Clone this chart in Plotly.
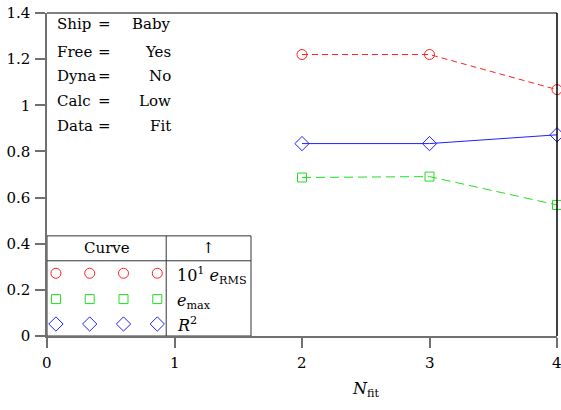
import plotly.graph_objects as go

# ---- data ----
n_fit = [2, 3, 4]
e_rms_x10 = [1.22, 1.22, 1.068]
e_max = [0.687, 0.691, 0.568]
r_squared = [0.834, 0.834, 0.872]

y_ticks = [0, 0.2, 0.4, 0.6, 0.8, 1, 1.2, 1.4]
y_tick_labels = ["0", "0.2", "0.4", "0.6", "0.8", "1", "1.2", "1.4"]
x_ticks = [0, 1, 2, 3, 4]
x_tick_labels = ["0", "1", "2", "3", "4"]

info_keys = ["Ship", "Free", "Dyna", "Calc", "Data"]
info_vals = ["Baby", "Yes", "No", "Low", "Fit"]

legend_labels = ["10<sup>1</sup> <i>e</i><sub>RMS</sub>",
                 "<i>e</i><sub>max</sub>",
                 "<i>R</i><sup>2</sup>"]

FONT = "DejaVu Serif"
RED, GREEN, BLUE = "#ff2020", "#20e020", "#2020ff"

fig = go.Figure()

fig.add_trace(go.Scatter(x=n_fit, y=e_rms_x10, mode="lines+markers",
                         line=dict(color=RED, width=1, dash="6px,4px"),
                         marker=dict(symbol="circle-open", size=10, color=RED, line=dict(width=1)),
                         cliponaxis=False, showlegend=False))
fig.add_trace(go.Scatter(x=n_fit, y=e_max, mode="lines+markers",
                         line=dict(color=GREEN, width=1, dash="9px,5px"),
                         marker=dict(symbol="square-open", size=9, color=GREEN, line=dict(width=1)),
                         cliponaxis=False, showlegend=False))
fig.add_trace(go.Scatter(x=n_fit, y=r_squared, mode="lines+markers",
                         line=dict(color=BLUE, width=1),
                         marker=dict(symbol="diamond-open", size=11, color=BLUE, line=dict(width=1)),
                         cliponaxis=False, showlegend=False))

# ---- legend table ----
leg_x = [0.07, 0.335, 0.6, 0.865]
leg_rows = [0.272, 0.16, 0.052]
leg_specs = [("circle-open", 10, RED), ("square-open", 9, GREEN), ("diamond-open", 11, BLUE)]
for yy, (sym, sz, col) in zip(leg_rows, leg_specs):
    fig.add_trace(go.Scatter(x=leg_x, y=[yy] * 4, mode="markers",
                             marker=dict(symbol=sym, size=sz, color=col, line=dict(width=1)),
                             cliponaxis=False, showlegend=False))

shapes = []
lc = dict(color="#333", width=1)
shapes.append(dict(type="rect", xref="x", yref="y", x0=0, x1=1.6, y0=0, y1=0.434,
                   line=lc, fillcolor="rgba(0,0,0,0)"))
shapes.append(dict(type="line", xref="x", yref="y", x0=0, x1=1.6, y0=0.326, y1=0.326, line=lc))
shapes.append(dict(type="line", xref="x", yref="y", x0=0.935, x1=0.935, y0=0, y1=0.434, line=lc))
# top and right frame
shapes.append(dict(type="line", xref="paper", yref="paper", x0=0, x1=1, y0=1, y1=1,
                   line=dict(color="black", width=1)))
shapes.append(dict(type="line", xref="paper", yref="paper", x0=1, x1=1, y0=0, y1=1,
                   line=dict(color="black", width=1.5)))

ann = []
fs = 15
ann.append(dict(x=0.47, y=0.382, xref="x", yref="y", text="Curve", showarrow=False,
                font=dict(family=FONT, size=fs, color="black")))
ann.append(dict(x=1.265, y=0.382, xref="x", yref="y", text="↑", showarrow=False,
                font=dict(family=FONT, size=fs, color="black")))
for yy, lab in zip([0.262, 0.148, 0.048], legend_labels):
    ann.append(dict(x=1.0, y=yy, xref="x", yref="y", text=lab, showarrow=False,
                    xanchor="left", font=dict(family=FONT, size=fs + 1, color="black")))

info_y = [1.352, 1.232, 1.125, 1.017, 0.91]
for yy, k, v in zip(info_y, info_keys, info_vals):
    ann.append(dict(x=0.06, y=yy, xref="x", yref="y", text=k, showarrow=False,
                    xanchor="left", font=dict(family=FONT, size=fs, color="black")))
    ann.append(dict(x=0.45, y=yy, xref="x", yref="y", text="=", showarrow=False,
                    xanchor="center", font=dict(family=FONT, size=fs, color="black")))
    ann.append(dict(x=0.985, y=yy, xref="x", yref="y", text=v, showarrow=False,
                    xanchor="right", font=dict(family=FONT, size=fs, color="black")))

# x tick labels (drawn as annotations so the last one is not dropped at the edge)
for xv, xl in zip(x_ticks, x_tick_labels):
    ann.append(dict(x=xv, y=-0.085, xref="x", yref="paper", text=xl, showarrow=False,
                    yanchor="middle", font=dict(family=FONT, size=fs, color="black")))

ann.append(dict(x=(365 - 47) / 510, y=-0.165, xref="paper", yref="paper",
                text="<i>N</i><sub>fit</sub>", showarrow=False, yanchor="middle",
                font=dict(family=FONT, size=fs + 1, color="black")))

axis_col = "#707070"
fig.update_layout(
    width=561, height=410,
    margin=dict(l=47, r=4, t=10, b=74),
    plot_bgcolor="white", paper_bgcolor="white",
    font=dict(family=FONT, size=fs, color="black"),
    xaxis=dict(range=[0, 4], tickvals=x_ticks, showticklabels=False,
               showgrid=False, zeroline=False, showline=True, linecolor=axis_col, linewidth=1.5,
               ticks="outside", ticklen=10, tickcolor=axis_col, tickwidth=1.5),
    yaxis=dict(range=[0, 1.4], tickvals=y_ticks, ticktext=y_tick_labels,
               showgrid=False, zeroline=False, showline=True, linecolor=axis_col, linewidth=1.5,
               ticks="outside", ticklen=10, tickcolor=axis_col, tickwidth=1.5,
               ticklabelstandoff=2),
    shapes=shapes, annotations=ann,
)

fig.write_html("out.html")
